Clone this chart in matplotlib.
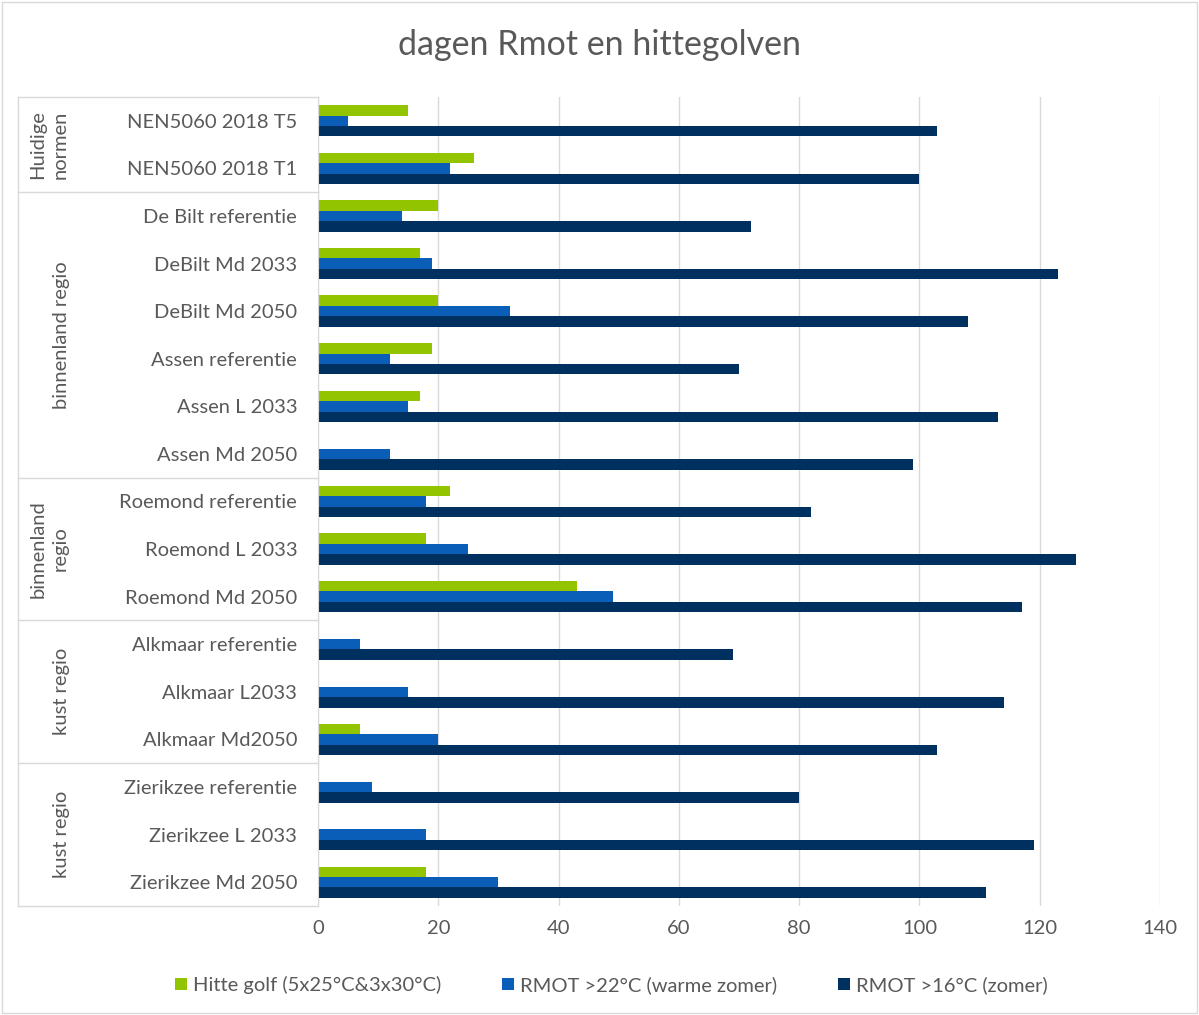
import numpy as np
import matplotlib.pyplot as plt
from matplotlib.patches import Rectangle
from matplotlib.lines import Line2D

plt.rcParams["font.family"] = ["Lato", "DejaVu Sans"]

categories = [
    "NEN5060 2018 T5", "NEN5060 2018 T1",
    "De Bilt referentie", "DeBilt Md 2033", "DeBilt Md 2050",
    "Assen referentie", "Assen L 2033", "Assen Md 2050",
    "Roemond referentie", "Roemond L 2033", "Roemond Md 2050",
    "Alkmaar referentie", "Alkmaar L2033", "Alkmaar Md2050",
    "Zierikzee referentie", "Zierikzee L 2033", "Zierikzee Md 2050",
]
hitte_golf = [15, 26, 20, 17, 20, 19, 17, 0, 22, 18, 43, 0, 0, 7, 0, 0, 18]
rmot_22 = [5, 22, 14, 19, 32, 12, 15, 12, 18, 25, 49, 7, 15, 20, 9, 18, 30]
rmot_16 = [103, 100, 72, 123, 108, 70, 113, 99, 82, 126, 117, 69, 114, 103, 80, 119, 111]

groups = ["Huidige\nnormen", "binnenland regio", "binnenland\nregio", "kust regio", "kust regio"]
group_sizes = [2, 6, 3, 3, 3]

series_names = ["Hitte golf (5x25°C&3x30°C)", "RMOT >22°C (warme zomer)", "RMOT >16°C (zomer)"]
colors = ["#92C500", "#0A5EB8", "#00305F"]

W, H = 1199, 1015
fig = plt.figure(figsize=(W / 100, H / 100), dpi=100)
fig.patches.append(Rectangle((0.002, 0.002), 0.996, 0.996, transform=fig.transFigure,
                             fill=False, edgecolor="#D9D9D9", linewidth=1))

left, right, top, bottom = 318, 1160, 97, 906
ax = fig.add_axes([left / W, 1 - bottom / H, (right - left) / W, (bottom - top) / H])

y = np.arange(len(categories))
bh = 0.22
for off, vals, c, name in zip([-bh, 0, bh], [hitte_golf, rmot_22, rmot_16], colors, series_names):
    ax.barh(y + off, vals, height=bh, color=c, label=name)

ax.set_xlim(0, 140)
ax.set_ylim(len(categories) - 0.5, -0.5)
ax.set_xticks(np.arange(0, 141, 20))
ax.xaxis.grid(True, color="#D9D9D9", linewidth=1)
ax.set_axisbelow(True)
for s in ["top", "right", "bottom"]:
    ax.spines[s].set_visible(False)
ax.spines["left"].set_color("#D9D9D9")
ax.tick_params(axis="x", length=0, labelsize=14.5, labelcolor="#595959", pad=10)
ax.set_yticks(y)
ax.set_yticklabels(categories, fontsize=14.5, color="#595959")
ax.tick_params(axis="y", length=0, pad=15)

# group boxes on the left
x0 = 18 / W
trans = fig.transFigure
def fy(v):
    # data y to figure y
    return 1 - (top + (v + 0.5) * (bottom - top) / len(categories)) / H

line_kw = dict(color="#D9D9D9", linewidth=1, transform=trans)
fig.add_artist(Line2D([x0, left / W], [fy(-0.5)] * 2, **line_kw))
fig.add_artist(Line2D([x0, x0], [fy(-0.5), fy(len(categories) - 0.5)], **line_kw))
start = 0
for g, n in zip(groups, group_sizes):
    end = start + n
    fig.add_artist(Line2D([x0, left / W], [fy(end - 0.5)] * 2, **line_kw))
    xc = 49 / W if "\n" in g else 62 / W
    fig.text(xc, fy((start + end - 1) / 2), g, rotation=90, ha="center", va="center",
             fontsize=14.5, color="#595959", linespacing=1.4)
    start = end

fig.text(0.5, 1 - 45 / H, "dagen Rmot en hittegolven", ha="center", va="center",
         fontsize=24.5, color="#595959")

fig.legend(loc="center", bbox_to_anchor=(0.51, 1 - 985 / H), ncol=3, frameon=False,
           fontsize=14.5, labelcolor="#595959", handlelength=0.6, handleheight=0.6,
           handletextpad=0.3, columnspacing=3.0)

fig.savefig("out.png", dpi=100)
